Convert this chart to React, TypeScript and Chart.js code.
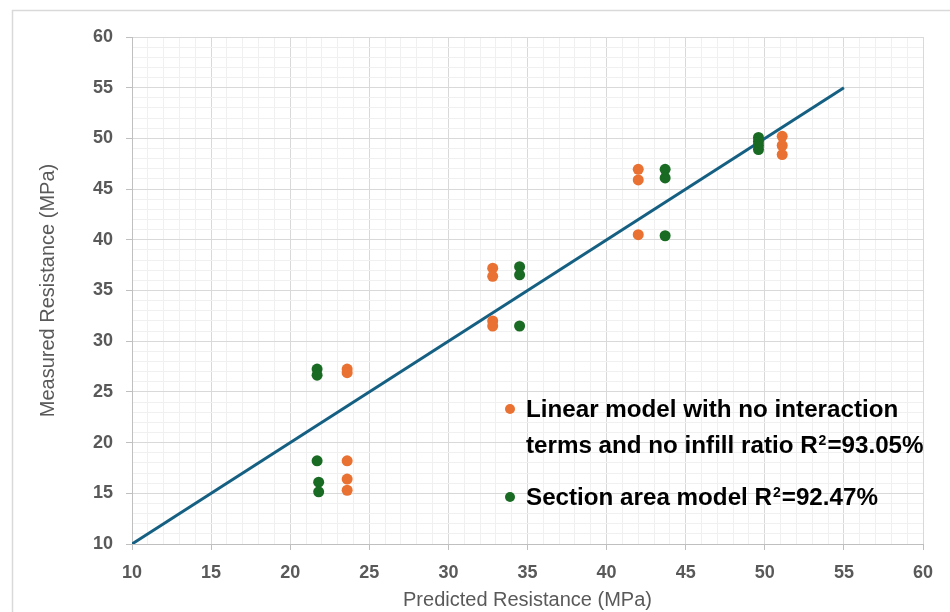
import React, { useEffect, useRef } from "react";
import { Chart, registerables } from "chart.js";

Chart.register(...registerables);

const linearX = [23.6, 23.6, 23.6, 23.6, 23.6, 32.8, 32.8, 32.8, 32.8, 42.0, 42.0, 42.0, 51.1, 51.1, 51.1];
const linearY = [27.25, 26.9, 18.2, 16.4, 15.3, 37.2, 36.4, 32.0, 31.5, 46.95, 45.9, 40.5, 50.2, 49.3, 48.4];

const sectionX = [21.7, 21.7, 21.7, 21.8, 21.8, 34.5, 34.5, 34.5, 43.7, 43.7, 43.7, 49.6, 49.6, 49.6, 49.6];
const sectionY = [27.25, 26.65, 18.2, 16.1, 15.15, 37.35, 36.55, 31.5, 46.95, 46.1, 40.4, 50.1, 49.7, 49.3, 48.9];

const fitLineX = [10, 55];
const fitLineY = [10, 55];

const axisMin = 10;
const axisMax = 60;

const legendLines = [
  { text: "Linear model with no interaction", color: "#E97132", bullet: true },
  { text: "terms and no infill ratio R", sup: "2", after: "=93.05%", bullet: false },
  { text: "Section area model R", sup: "2", after: "=92.47%", color: "#196B24", bullet: true },
];

const ORANGE = "#E97132";
const GREEN = "#196B24";
const BLUE = "#156082";
const TEXT = "#595959";

const toPts = (xs: number[], ys: number[]) => xs.map((x, i) => ({ x, y: ys[i] }));

export default function App() {
  const ref = useRef<HTMLCanvasElement | null>(null);

  useEffect(() => {
    const canvas = ref.current;
    if (!canvas) return;

    const framePlugin = {
      id: "frame",
      beforeDraw(chart: any) {
        const ctx = chart.ctx;
        ctx.save();
        ctx.fillStyle = "#ffffff";
        ctx.fillRect(0, 0, chart.width, chart.height);
        ctx.strokeStyle = "#d9d9d9";
        ctx.lineWidth = 1.5;
        ctx.beginPath();
        ctx.moveTo(12.5, chart.height + 5);
        ctx.lineTo(12.5, 10.5);
        ctx.lineTo(chart.width + 5, 10.5);
        ctx.stroke();
        ctx.restore();
      },
    };

    const legendPlugin = {
      id: "customLegend",
      afterDatasetsDraw(chart: any) {
        const ctx = chart.ctx;
        ctx.save();
        const x0 = 526;
        const baselines = [417, 453, 505];
        const bulletYs = [409, 0, 497];
        const bigFont = "bold 24.2px 'Liberation Sans', Arial, sans-serif";
        legendLines.forEach((ln: any, i: number) => {
          if (ln.bullet) {
            ctx.fillStyle = ln.color;
            ctx.beginPath();
            ctx.arc(510, bulletYs[i], 5, 0, Math.PI * 2);
            ctx.fill();
          }
          ctx.fillStyle = "#000000";
          ctx.textBaseline = "alphabetic";
          ctx.textAlign = "left";
          ctx.font = bigFont;
          let x = x0;
          ctx.fillText(ln.text, x, baselines[i]);
          x += ctx.measureText(ln.text).width;
          if (ln.sup) {
            ctx.font = "bold 14px 'Liberation Sans', Arial, sans-serif";
            ctx.fillText(ln.sup, x + 1, baselines[i] - 8);
            x += ctx.measureText(ln.sup).width + 2;
            ctx.font = bigFont;
            ctx.fillText(ln.after, x, baselines[i]);
          }
        });
        ctx.restore();
      },
    };

    const gridColor = (c: any) => {
      const v = c.tick ? c.tick.value : 0;
      return Math.round(v) % 5 === 0 ? "#d9d9d9" : "#f0f0f0";
    };
    const tickColor = (c: any) => {
      const v = c.tick ? c.tick.value : 0;
      return Math.round(v) % 5 === 0 ? "#bfbfbf" : "rgba(0,0,0,0)";
    };
    const tickFont = { family: "'Liberation Sans', Arial, sans-serif", size: 18, weight: "bold" as const };
    const titleFont = { family: "'Liberation Sans', Arial, sans-serif", size: 20, weight: "normal" as const };

    const chart = new Chart(canvas, {
      type: "scatter",
      data: {
        datasets: [
          {
            label: "Fit",
            data: toPts(fitLineX, fitLineY),
            showLine: true,
            borderColor: BLUE,
            backgroundColor: BLUE,
            borderWidth: 3,
            pointRadius: 0,
            order: 3,
          },
          {
            label: "Linear model with no interaction terms and no infill ratio R²=93.05%",
            data: toPts(linearX, linearY),
            backgroundColor: ORANGE,
            borderColor: ORANGE,
            pointRadius: 5.5,
            borderWidth: 0,
            order: 2,
          },
          {
            label: "Section area model R²=92.47%",
            data: toPts(sectionX, sectionY),
            backgroundColor: GREEN,
            borderColor: GREEN,
            pointRadius: 5.5,
            borderWidth: 0,
            order: 1,
          },
        ],
      },
      options: {
        responsive: false,
        animation: false,
        layout: { padding: { top: 37, right: 27, left: 0, bottom: 0 } },
        plugins: { legend: { display: false }, tooltip: { enabled: false } },
        scales: {
          x: {
            type: "linear",
            min: axisMin,
            max: axisMax,
            afterFit: (s: any) => {
              s.height = 68;
            },
            border: { color: "#bfbfbf", width: 1 },
            grid: { color: gridColor, tickColor: tickColor, tickLength: 6 },
            ticks: {
              stepSize: 1,
              autoSkip: false,
              maxRotation: 0,
              color: TEXT,
              font: tickFont,
              padding: 12,
              callback: (v: any) => (Math.round(v) % 5 === 0 ? String(v) : ""),
            },
            title: {
              display: true,
              text: "Predicted Resistance (MPa)",
              color: TEXT,
              font: titleFont,
              padding: { top: 0, bottom: 0 },
            },
          },
          y: {
            type: "linear",
            min: axisMin,
            max: axisMax,
            afterFit: (s: any) => {
              s.width = 132;
            },
            border: { color: "#bfbfbf", width: 1 },
            grid: { color: gridColor, tickColor: tickColor, tickLength: 6 },
            ticks: {
              stepSize: 1,
              autoSkip: false,
              color: TEXT,
              font: tickFont,
              padding: 13,
              callback: (v: any) => (Math.round(v) % 5 === 0 ? String(v) : ""),
            },
            title: {
              display: true,
              text: "Measured Resistance (MPa)",
              color: TEXT,
              font: titleFont,
              padding: { top: 36, bottom: 0 },
            },
          },
        },
      },
      plugins: [framePlugin, legendPlugin],
    });

    return () => chart.destroy();
  }, []);

  return (
    <div style={{ position: "fixed", left: 0, top: 0, width: 950, height: 612, background: "#fff" }}>
      <canvas ref={ref} width={950} height={612} style={{ display: "block" }} />
    </div>
  );
}
